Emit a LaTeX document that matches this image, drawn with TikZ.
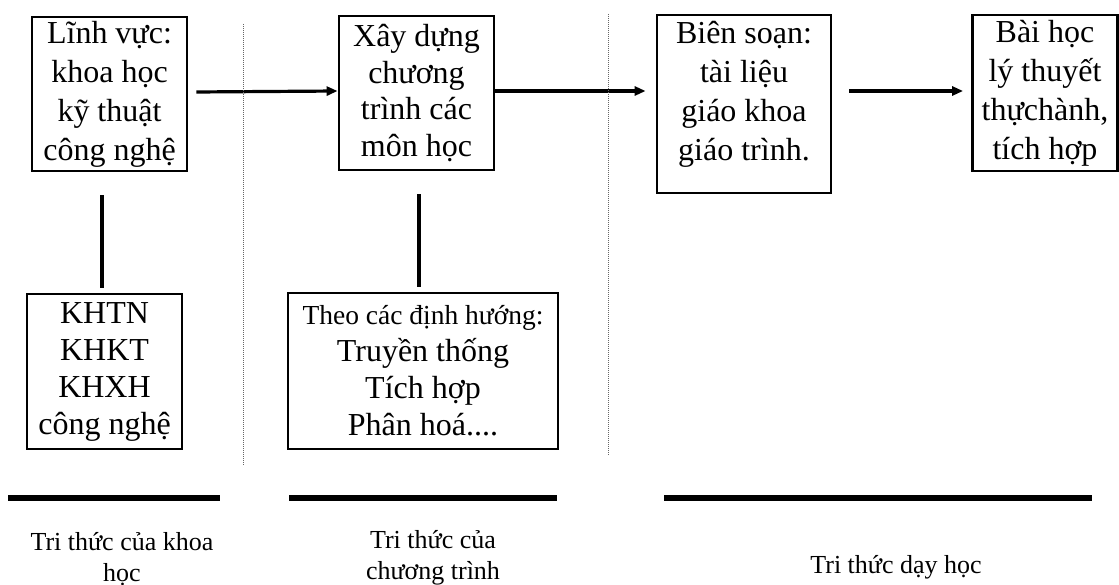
\documentclass[tikz,border=0pt]{standalone}
\usepackage{fontspec}
\setmainfont{Liberation Serif}
\usetikzlibrary{arrows.meta,calc}
\begin{document}
\begin{tikzpicture}[x=1pt,y=-1pt,
  box/.style={draw, line width=2.8pt, inner sep=0pt, align=center, font=\fontsize{32}{39}\selectfont},
  txt/.style={inner sep=0pt, align=center, font=\fontsize{32}{39}\selectfont},
  conn/.style={line width=3.2pt},
  arr/.style={conn, -{Triangle[length=11pt,width=9pt]}},
  divider/.style={densely dotted, line width=1pt, black!60},
  bar/.style={line width=6pt},
  lab/.style={inner sep=0pt, align=center, font=\fontsize{26}{31}\selectfont}]
\useasboundingbox (0,0) rectangle (1119,585);
% top row
\node[box, minimum width=155pt, minimum height=154pt] (b1) at (109.5,94) {Lĩnh vực:\\khoa học\\kỹ thuật\\công nghệ};
\node[box, minimum width=155pt, minimum height=154pt, font=\fontsize{32}{36.5}\selectfont] (b2) at (416.5,93) {Xây dựng\\chương\\trình các\\môn học};
\node[box, minimum width=174pt, minimum height=178pt] (b3) at (744,104) {};
\node[txt] (t3) at (744,94) {Biên soạn:\\tài liệu\\giáo khoa\\giáo trình.};
\node[box, minimum width=145pt, minimum height=156pt] (b4) at (1045,93) {Bài học\\lý thuyết\\thựchành,\\tích hợp};
% lower boxes
\node[box, minimum width=155pt, minimum height=155pt, font=\fontsize{32}{37}\selectfont] (k) at (104.5,371.5) {KHTN\\KHKT\\KHXH\\công nghệ};
\node[box, minimum width=270pt, minimum height=156pt, font=\fontsize{32}{37}\selectfont] (t) at (423,371) {{\fontsize{27.5}{37}\selectfont Theo các định hướng:}\\Truyền thống\\Tích hợp\\Phân hoá....};
% arrows
\draw[arr] ($(b1.east)+(8,-2)$) -- ($(b2.west)+(0,-2)$);
\draw[arr] ($(b2.east)+(0,-2)$) -- ($(b3.west |- b2.east)+(-10,-2)$);
\draw[arr] ($(b3.east |- b4.west)+(17,-2)$) -- ($(b4.west)+(-8,-2)$);
% vertical connectors
\draw[conn] ($(b1.south)+(-7.5,23)$) -- ($(k.north)+(-2.5,-5)$);
\draw[conn] ($(b2.south)+(2.5,23)$) -- ($(t.north)+(-4,-5)$);
% dividers
\draw[divider] (243,24) -- (243,465);
\draw[divider] (608,14) -- (608,455);
% bars
\draw[bar] (8,498) -- (220,498);
\draw[bar] (289,498) -- (557,498);
\draw[bar] (664,498) -- (1092,498);
% labels
\node[lab] (l1) at (122,559) {Tri thức của khoa\\học};
\node[lab] (l2) at (433,558) {Tri thức của\\chương trình};
\node[lab] (l3) at (896,567) {Tri thức dạy học};
\end{tikzpicture}
\end{document}
